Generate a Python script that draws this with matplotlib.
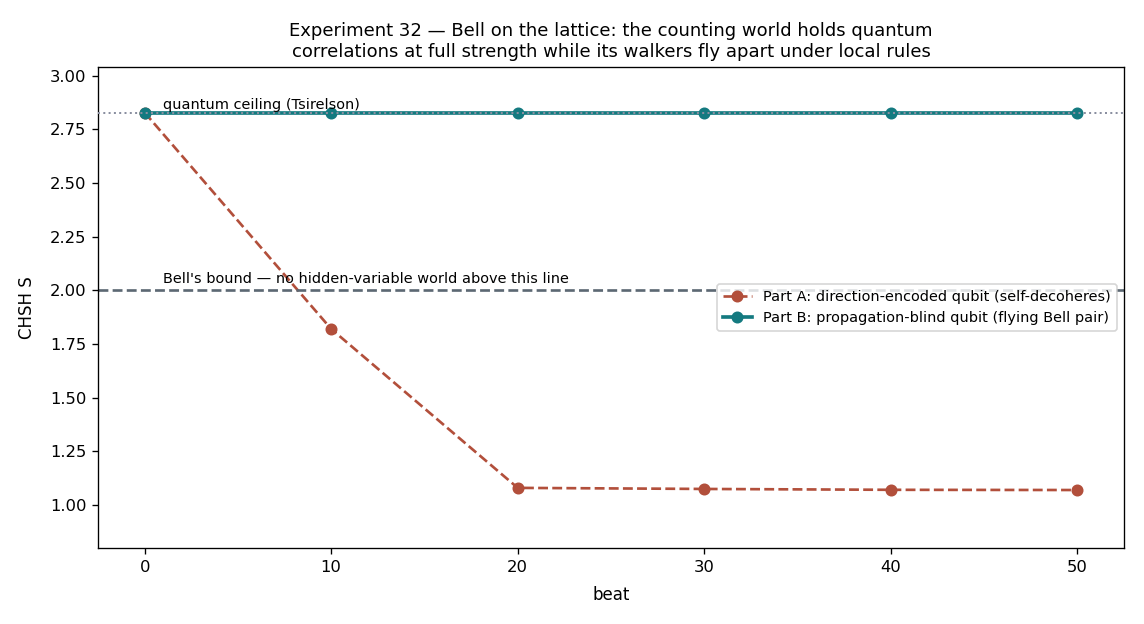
import matplotlib
matplotlib.use("Agg")
import matplotlib.pyplot as plt

# CHSH S value sampled every 10 beats
beats = [0, 10, 20, 30, 40, 50]
part_a = [2.828, 1.82, 1.08, 1.075, 1.071, 1.070]
part_b = [2.828, 2.828, 2.828, 2.828, 2.828, 2.828]

TSIRELSON = 2.828
BELL_BOUND = 2.0

RED = "#b24f3b"
TEAL = "#147a80"

fig, ax = plt.subplots(figsize=(1144 / 120, 624 / 120), dpi=120)

ax.plot(beats, part_a, "o--", color=RED, lw=1.6, ms=6.2,
        label="Part A: direction-encoded qubit (self-decoheres)")
ax.plot(beats, part_b, "o-", color=TEAL, lw=2.2, ms=6.2,
        label="Part B: propagation-blind qubit (flying Bell pair)")

ax.axhline(TSIRELSON, color="#8a8fa0", ls=":", lw=1.2, zorder=3)
ax.axhline(BELL_BOUND, color="#5c6873", ls="--", lw=1.6)
ax.text(1, TSIRELSON + 0.004, "quantum ceiling (Tsirelson)", fontsize=8.7, va="bottom")
ax.text(1, BELL_BOUND + 0.02, "Bell's bound — no hidden-variable world above this line",
        fontsize=8.7, va="bottom")

ax.set_ylim(0.8, 3.04)
ax.set_xlabel("beat", fontsize=10, labelpad=7)
ax.set_ylabel("CHSH S", fontsize=10, labelpad=8)
ax.tick_params(labelsize=9.8)
ax.set_title("Experiment 32 — Bell on the lattice: the counting world holds quantum\n"
             "correlations at full strength while its walkers fly apart under local rules",
             fontsize=10.8)
ax.legend(loc="center right", fontsize=8.7)

fig.subplots_adjust(left=98 / 1144, right=1124 / 1144, top=1 - 67 / 624, bottom=1 - 548 / 624)
fig.savefig("out.png", dpi=120)
